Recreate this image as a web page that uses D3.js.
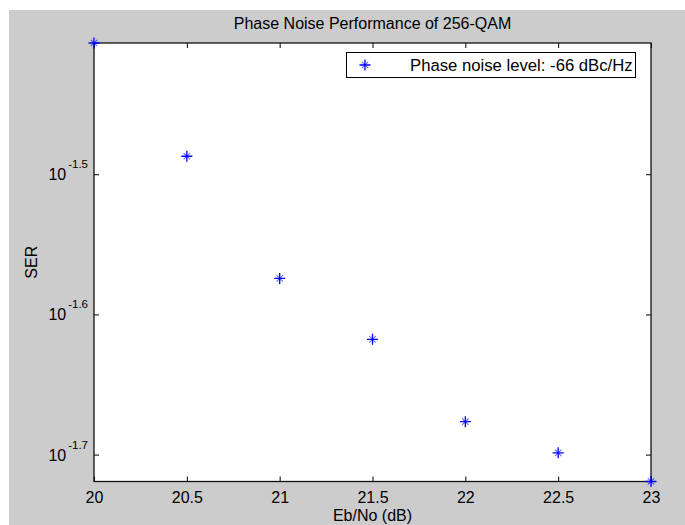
<!DOCTYPE html>
<html>
<head>
<meta charset="utf-8">
<script src="https://cdn.jsdelivr.net/npm/d3@7"></script>
<style>
  html, body { margin: 0; padding: 0; background: #ffffff; }
  svg { display: block; }
  text { font-family: "Liberation Sans", Arial, sans-serif; fill: #000; }
</style>
</head>
<body>
<script>
// ---- data ----
const ebno = [20, 20.5, 21, 21.5, 22, 22.5, 23];
const ser = [0.03923, 0.03257, 0.02665, 0.02411, 0.02106, 0.02001, 0.01909];
const xTicks = [20, 20.5, 21, 21.5, 22, 22.5, 23];
const yTickExps = [-1.5, -1.6, -1.7];
const titleText = "Phase Noise Performance of 256-QAM";
const xLabel = "Eb/No (dB)";
const yLabel = "SER";
const legendLabel = "Phase noise level: -66 dBc/Hz";

// ---- layout ----
const W = 685, H = 525;
const plot = { left: 94, right: 651, top: 43, bottom: 481.5 };
const FS = 16;

const svg = d3.select("body").append("svg").attr("width", W).attr("height", H);

svg.append("rect").attr("x", 9).attr("y", 10).attr("width", W - 9).attr("height", H - 10)
  .attr("fill", "#cccccc");

svg.append("rect").attr("x", plot.left).attr("y", plot.top)
  .attr("width", plot.right - plot.left).attr("height", plot.bottom - plot.top)
  .attr("fill", "#ffffff");

const x = d3.scaleLinear().domain(d3.extent(ebno)).range([plot.left, plot.right]);
const y = d3.scaleLog().domain(d3.extent(ser)).range([plot.bottom, plot.top]);

const tickLen = 5;

// bottom axis
const xAxisB = d3.axisBottom(x).tickValues(xTicks).tickSizeInner(-tickLen).tickSizeOuter(0)
  .tickPadding(0).tickFormat(d => String(d));
const gxb = svg.append("g").attr("transform", `translate(0,${plot.bottom})`).call(xAxisB);
gxb.selectAll("text").attr("font-size", FS).attr("dy", null).attr("y", 21)
  .attr("font-family", "Liberation Sans, Arial, sans-serif");
// top axis (ticks only)
const xAxisT = d3.axisTop(x).tickValues(xTicks).tickSizeInner(-tickLen).tickSizeOuter(0).tickFormat("");
svg.append("g").attr("transform", `translate(0,${plot.top})`).call(xAxisT);

// left / right axes
const yTickVals = yTickExps.map(e => Math.pow(10, e));
const yAxisL = d3.axisLeft(y).tickValues(yTickVals).tickSizeInner(-tickLen).tickSizeOuter(0).tickFormat("");
svg.append("g").attr("transform", `translate(${plot.left},0)`).call(yAxisL);
const yAxisR = d3.axisRight(y).tickValues(yTickVals).tickSizeInner(-tickLen).tickSizeOuter(0).tickFormat("");
svg.append("g").attr("transform", `translate(${plot.right},0)`).call(yAxisR);

svg.selectAll(".domain").remove();
svg.selectAll(".tick line").attr("stroke", "#000").attr("stroke-width", 1);

// y tick labels: 10^exp
yTickExps.forEach(e => {
  const yy = y(Math.pow(10, e));
  const t = svg.append("text").attr("x", plot.left - 6).attr("y", yy + 6)
    .attr("text-anchor", "end").attr("font-size", FS);
  t.append("tspan").text("10");
  t.append("tspan").attr("dx", 2).attr("dy", -12).attr("font-size", 11.5).text(String(e));
});

// plot frame
svg.append("rect").attr("x", plot.left).attr("y", plot.top)
  .attr("width", plot.right - plot.left).attr("height", plot.bottom - plot.top)
  .attr("fill", "none").attr("stroke", "#111").attr("stroke-width", 1.3);

// asterisk marker
function asterisk(g, cx, cy) {
  const s = 5.5, d = 3.2;
  g.append("path")
    .attr("d", `M${cx - s},${cy}L${cx + s},${cy}M${cx},${cy - s}L${cx},${cy + s}`)
    .attr("stroke", "#0000ff").attr("stroke-width", 1.3).attr("fill", "none");
  g.append("path")
    .attr("d", `M${cx - d},${cy - d}L${cx + d},${cy + d}M${cx - d},${cy + d}L${cx + d},${cy - d}`)
    .attr("stroke", "#0000ff").attr("stroke-opacity", 0.6).attr("stroke-width", 1.1).attr("fill", "none");
}

const gm = svg.append("g");
ebno.forEach((v, i) => asterisk(gm, x(v), y(ser[i])));

// title & labels
svg.append("text").attr("x", (plot.left + plot.right) / 2).attr("y", 29)
  .attr("text-anchor", "middle").attr("font-size", FS).text(titleText);
svg.append("text").attr("x", (plot.left + plot.right) / 2).attr("y", 521)
  .attr("text-anchor", "middle").attr("font-size", FS).text(xLabel);
svg.append("text").attr("transform", `translate(37,${(plot.top + plot.bottom) / 2}) rotate(-90)`)
  .attr("text-anchor", "middle").attr("font-size", FS).text(yLabel);

// legend
const lg = svg.append("g");
lg.append("rect").attr("x", 346.5).attr("y", 52.5).attr("width", 289).attr("height", 25)
  .attr("fill", "#fff").attr("stroke", "#000").attr("stroke-width", 1);
asterisk(lg, 365, 65);
lg.append("text").attr("x", 410).attr("y", 71).attr("font-size", 16.7).text(legendLabel);
</script>
</body>
</html>
